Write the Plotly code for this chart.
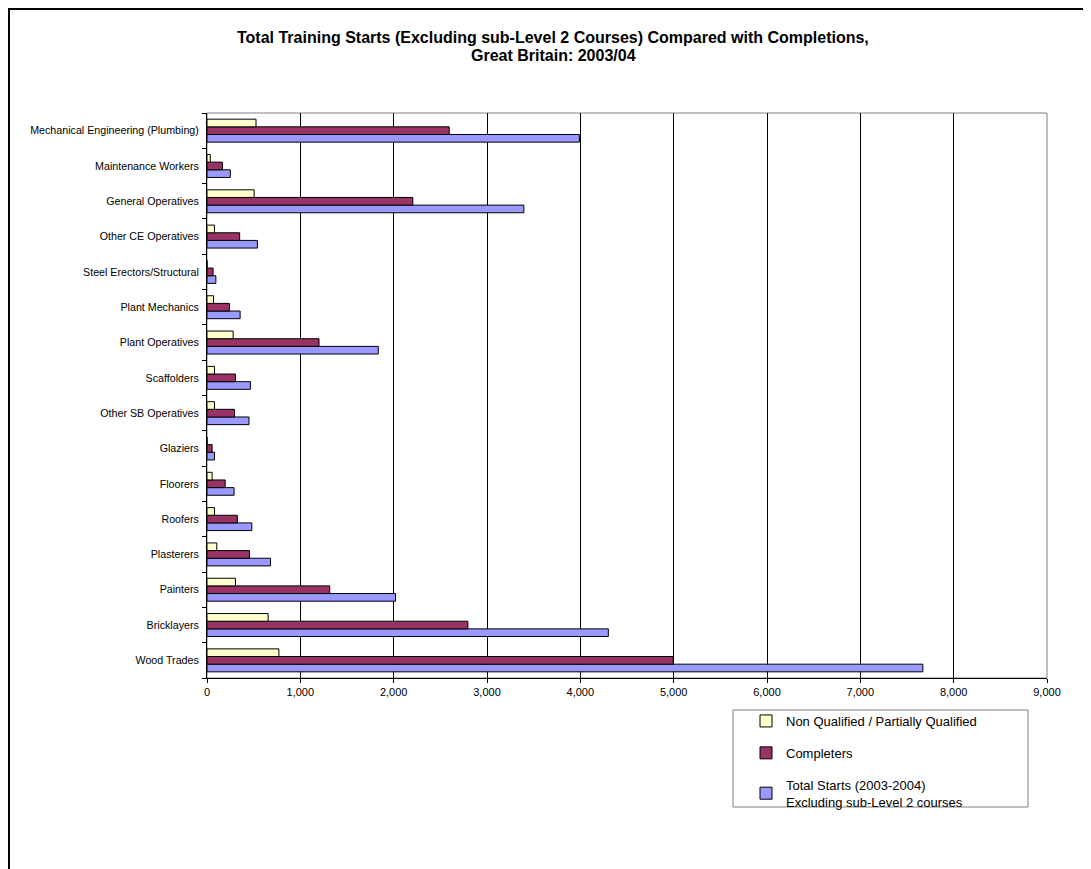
import plotly.graph_objects as go

categories = [
    "Wood Trades", "Bricklayers", "Painters", "Plasterers", "Roofers", "Floorers",
    "Glaziers", "Other SB Operatives", "Scaffolders", "Plant Operatives",
    "Plant Mechanics", "Steel Erectors/Structural", "Other CE Operatives",
    "General Operatives", "Maintenance Workers", "Mechanical Engineering (Plumbing)",
]
total_starts = [7670, 4300, 2020, 680, 480, 290, 80, 450, 465, 1835, 355, 95, 540, 3395, 250, 3990]
completers = [4995, 2795, 1315, 455, 325, 195, 55, 295, 305, 1200, 240, 65, 350, 2205, 165, 2595]
non_qualified = [770, 655, 305, 105, 80, 55, 0, 80, 80, 280, 70, 0, 80, 505, 35, 525]

series_names = [
    "Total Starts (2003-2004)<br>Excluding sub-Level 2 courses",
    "Completers",
    "Non Qualified / Partially Qualified",
]
series_values = [total_starts, completers, non_qualified]
series_colors = ["#9999FF", "#993366", "#FFFFCC"]
legend_ranks = [3, 2, 1]

title_lines = [
    "Total Training Starts (Excluding sub-Level 2 Courses) Compared with Completions,",
    "Great Britain: 2003/04",
]

x_ticks = list(range(0, 9001, 1000))
x_tick_labels = [f"{v:,}" for v in x_ticks]

FONT = "Arial, 'Liberation Sans', sans-serif"

fig = go.Figure()
for i, (name, vals, col, rk) in enumerate(zip(series_names, series_values, series_colors, legend_ranks)):
    fig.add_trace(go.Bar(
        y=categories, x=vals, name=name, orientation="h",
        marker=dict(color=col, line=dict(color="black", width=1)),
        legendgroup=f"g{i}", legendrank=rk,
    ))

OFF = 8  # page body margin
W, H = 1091 - OFF, 869 - OFF
L, R, T, B = 207 - OFF, 1047 - OFF, 113 - OFF, 678 - OFF
pw, ph = R - L, B - T

def px(x):
    # x given in screenshot pixel coordinates
    return (x - OFF - L) / pw

def py(y):
    return (B - (y - OFF)) / ph

annotations = []
for line, yc in zip(title_lines, [37, 56]):
    annotations.append(dict(
        text=line, xref="paper", yref="paper", x=px(553), y=py(yc),
        xanchor="center", yanchor="middle", showarrow=False,
        font=dict(family=FONT, size=16, color="black", weight="bold"),
    ))

fig.update_layout(
    width=W, height=H,
    margin=dict(l=L, r=W - R, t=T, b=H - B, pad=0),
    paper_bgcolor="white", plot_bgcolor="white",
    barmode="group", bargap=0.35, bargroupgap=0,
    font=dict(family=FONT, color="black"),
    annotations=annotations,
    xaxis=dict(
        range=[0, 9000], tickvals=x_ticks, ticktext=x_tick_labels,
        showgrid=True, gridcolor="black", gridwidth=1,
        showline=True, linecolor="black", linewidth=1,
        ticks="outside", ticklen=4, tickcolor="black",
        tickfont=dict(size=11, family=FONT), zeroline=False,
    ),
    yaxis=dict(
        type="category", categoryorder="array", categoryarray=categories,
        showline=True, linecolor="black", linewidth=1,
        ticks="outside", ticklen=4, tickcolor="black", tickson="boundaries",
        tickfont=dict(size=10.7, family=FONT), showgrid=False,
        ticklabelstandoff=5,
    ),
    showlegend=True,
    legend=dict(
        x=px(746), y=py(706), xanchor="left", yanchor="top",
        traceorder="grouped", tracegroupgap=12,
        font=dict(size=13, family=FONT), bgcolor="rgba(0,0,0,0)",
        borderwidth=0,
    ),
    shapes=[
        # outer chart border
        dict(type="rect", xref="paper", yref="paper",
             x0=px(9), x1=px(1091 + 20), y0=py(869 + 20), y1=py(9),
             line=dict(color="black", width=2), fillcolor="rgba(0,0,0,0)", layer="below"),
        # plot area border
        dict(type="rect", xref="paper", yref="paper", x0=0, x1=1, y0=0, y1=1,
             line=dict(color="#808080", width=1), fillcolor="rgba(0,0,0,0)", layer="below"),
        # legend box
        dict(type="rect", xref="paper", yref="paper",
             x0=px(733), x1=px(1028), y0=py(807), y1=py(710),
             line=dict(color="#808080", width=1), fillcolor="white", layer="below"),
    ],
)

fig.write_html("out.html")
